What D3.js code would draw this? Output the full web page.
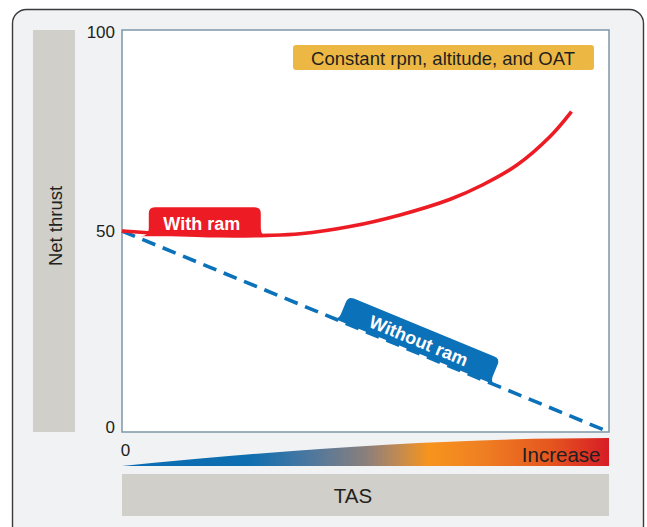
<!DOCTYPE html>
<html>
<head>
<meta charset="utf-8">
<script src="https://cdn.jsdelivr.net/npm/d3@7"></script>
<style>
  html, body { margin: 0; padding: 0; background: #ffffff; }
  svg { display: block; font-family: "Liberation Sans", Arial, Helvetica, sans-serif; }
</style>
</head>
<body>
<svg id="chart" width="647" height="527"></svg>
<script>
// ---- data ----
const withRamTAS    = [0, 10, 20, 30, 36.6, 46.8, 57.1, 67.4, 74.1, 81.1, 87.9, 92.3];
const withRamThrust = [50, 49.2, 48.8, 48.9, 49.3, 51.1, 54.0, 57.9, 61.5, 66.4, 73.5, 79.7];
const withoutRamTAS    = [0, 100];
const withoutRamThrust = [50, 0];
const yTickValues = [0, 50, 100];
const yTickLabels = ["0", "50", "100"];
const xTickLabels = ["0"];
const yAxisTitle = "Net thrust";
const xAxisTitle = "TAS";
const increaseLabel = "Increase";
const noteText = "Constant rpm, altitude, and OAT";
const withRamLabel = "With ram";
const withoutRamLabel = "Without ram";
const withRamLabelAt = 17;     // TAS position of "With ram" tab
const withoutRamLabelAt = 60;  // TAS position of "Without ram" tab

// ---- layout ----
const svg = d3.select("#chart");
const plot = { left: 122, right: 609, top: 30, bottom: 432 };
const x = d3.scaleLinear().domain([0, 100]).range([plot.left, plot.right]);
const y = d3.scaleLinear().domain([0, 100]).range([plot.bottom, plot.top]);
const ink = "#231f20";

// outer frame
svg.append("rect")
  .attr("x", 12.5).attr("y", 9.5).attr("width", 631).attr("height", 530)
  .attr("rx", 14).attr("fill", "#f0f2f4").attr("stroke", "#3a3a3a").attr("stroke-width", 1.4);

// y-axis title bar
svg.append("rect").attr("x", 33).attr("y", plot.top).attr("width", 42).attr("height", plot.bottom - plot.top)
  .attr("fill", "#d0cfca");
svg.append("text")
  .attr("transform", `translate(55,226) rotate(-90)`)
  .attr("text-anchor", "middle").attr("dominant-baseline", "central")
  .attr("font-size", 18.5).attr("fill", ink).text(yAxisTitle);

// plot area
svg.append("rect").attr("x", plot.left).attr("y", plot.top)
  .attr("width", plot.right - plot.left).attr("height", plot.bottom - plot.top)
  .attr("fill", "#ffffff").attr("stroke", "#7d96a6").attr("stroke-width", 1.5);

// y axis ticks
const yAxis = d3.axisLeft(y).tickValues(yTickValues)
  .tickFormat((d, i) => yTickLabels[i]).tickSize(0).tickPadding(7);
const gy = svg.append("g").attr("transform", `translate(${plot.left},0)`).call(yAxis);
gy.select(".domain").remove();
gy.selectAll("text").attr("font-size", 17).attr("fill", ink)
  .attr("font-family", "Liberation Sans, Arial, sans-serif")
  .attr("dy", d => d === 0 ? "0" : (d === 100 ? "0.45em" : "0.34em"));

// x tick "0"
svg.append("text").attr("x", x(0) + 3.5).attr("y", 456).attr("text-anchor", "middle")
  .attr("font-size", 17).attr("fill", ink).text(xTickLabels[0]);

// gradient wedge
const defs = svg.append("defs");
const grad = defs.append("linearGradient").attr("id", "tasGrad")
  .attr("x1", "0%").attr("x2", "100%").attr("y1", "0%").attr("y2", "0%");
[["0%", "#0a6cb4"], ["26%", "#0d6fb0"], ["38%", "#4a77a0"], ["50%", "#8a7f7c"], ["56%", "#bb8958"],
 ["63%", "#f7941d"], ["74%", "#ef7f22"], ["88%", "#e5561f"], ["100%", "#d71c26"]]
  .forEach(([o, c]) => grad.append("stop").attr("offset", o).attr("stop-color", c));
const wedge = d3.path();
wedge.moveTo(x(0), 466);
wedge.quadraticCurveTo(x(57), 438, x(100), 438);
wedge.lineTo(x(100), 466);
wedge.closePath();
svg.append("path").attr("d", wedge.toString()).attr("fill", "url(#tasGrad)");
svg.append("text").attr("x", x(100) - 8.5).attr("y", 461.5).attr("text-anchor", "end")
  .attr("font-size", 20.5).attr("fill", ink).text(increaseLabel);

// x-axis title bar
svg.append("rect").attr("x", plot.left).attr("y", 474).attr("width", plot.right - plot.left).attr("height", 42)
  .attr("fill", "#d0cfca");
svg.append("text").attr("x", 353).attr("y", 495)
  .attr("text-anchor", "middle").attr("dominant-baseline", "central")
  .attr("font-size", 20.5).attr("fill", ink).text(xAxisTitle);

// note box
const noteG = svg.append("g");
noteG.append("rect").attr("x", 293).attr("y", 45).attr("width", 301).attr("height", 25)
  .attr("rx", 3).attr("fill", "#ecb843");
noteG.append("text").attr("x", 443).attr("y", 58).attr("text-anchor", "middle")
  .attr("dominant-baseline", "central").attr("font-size", 18.5).attr("fill", ink).text(noteText);

// tab shape
function tabPath(w, h, f, r, b) {
  const p = d3.path();
  p.moveTo(-w / 2 - f, b);
  p.lineTo(-w / 2 - f, 0);
  p.quadraticCurveTo(-w / 2, 0, -w / 2, -f);
  p.lineTo(-w / 2, -h + r);
  p.quadraticCurveTo(-w / 2, -h, -w / 2 + r, -h);
  p.lineTo(w / 2 - r, -h);
  p.quadraticCurveTo(w / 2, -h, w / 2, -h + r);
  p.lineTo(w / 2, -f);
  p.quadraticCurveTo(w / 2, 0, w / 2 + f, 0);
  p.lineTo(w / 2 + f, b);
  p.closePath();
  return p.toString();
}

// tab positions
const wx = x(withRamLabelAt);
const wy = y(d3.interpolateNumber(withRamThrust[1], withRamThrust[2])((withRamLabelAt - 10) / 10)) + 1;
const bx = x(withoutRamLabelAt);
const by = y(50 - withoutRamLabelAt * 0.5);
const ang = Math.atan2(y(0) - y(50), x(100) - x(0)) * 180 / Math.PI;

const wG = svg.append("g").attr("transform", `translate(${wx},${wy})`);
wG.append("path").attr("d", tabPath(112, 29, 8, 6, 0)).attr("fill", "#ed1c24");
const bG = svg.append("g").attr("transform", `translate(${bx},${by}) rotate(${ang})`);
bG.append("path").attr("d", tabPath(164, 26, 7, 6, 0)).attr("fill", "#0b71b9");

// lines
const withData = withRamTAS.map((t, i) => [t, withRamThrust[i]]);
const withoutData = withoutRamTAS.map((t, i) => [t, withoutRamThrust[i]]);
const lineGen = d3.line().x(d => x(d[0])).y(d => y(d[1])).curve(d3.curveCatmullRom.alpha(0.5));

svg.append("path").datum(withoutData).attr("d", d3.line().x(d => x(d[0])).y(d => y(d[1])))
  .attr("fill", "none").attr("stroke", "#0b71b9").attr("stroke-width", 3.6)
  .attr("stroke-dasharray", "14,8");
svg.append("path").datum(withData).attr("d", lineGen)
  .attr("fill", "none").attr("stroke", "#ed1c24").attr("stroke-width", 3.6);

// tab labels
wG.append("text").attr("x", -3).attr("y", -6).attr("text-anchor", "middle")
  .attr("font-size", 18).attr("font-weight", "bold").attr("fill", "#ffffff").text(withRamLabel);
bG.append("text").attr("x", 0).attr("y", -5.5).attr("text-anchor", "middle")
  .attr("font-size", 18).attr("font-weight", "bold").attr("fill", "#ffffff").text(withoutRamLabel);
</script>
</body>
</html>
